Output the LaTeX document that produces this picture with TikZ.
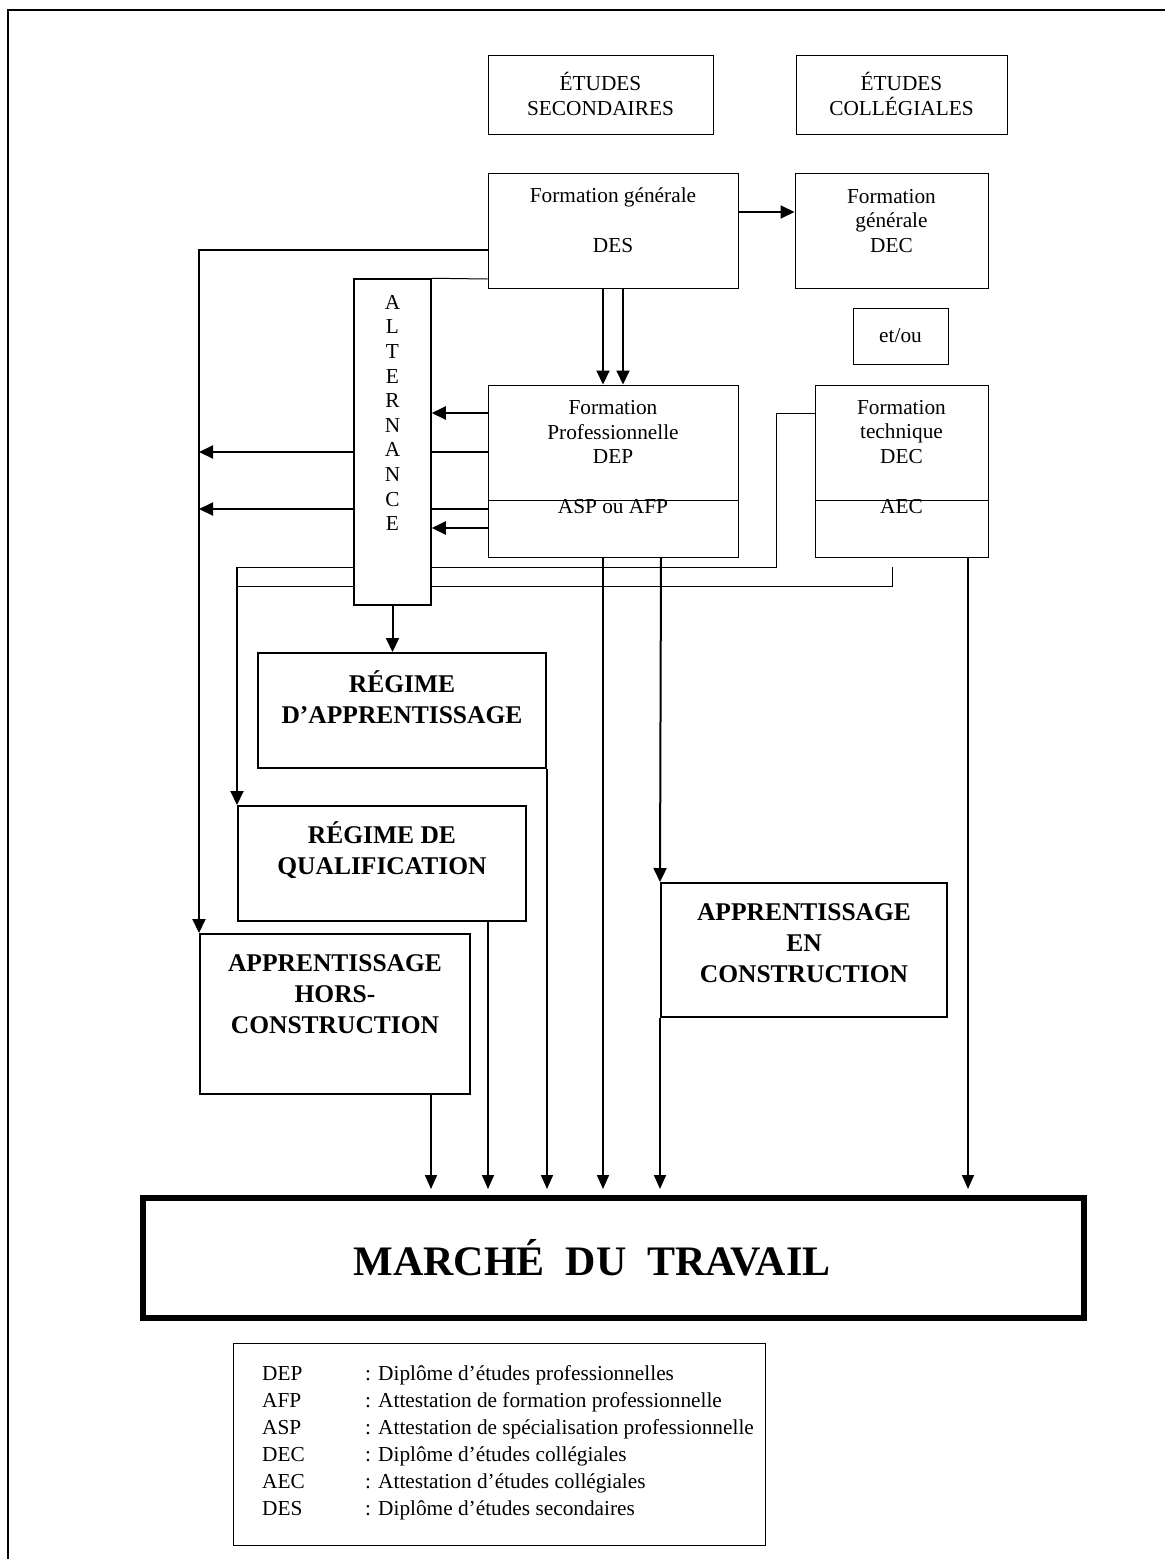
\documentclass[tikz,border=0pt]{standalone}
\usepackage{fontspec}
\setmainfont{Liberation Serif}
\usetikzlibrary{arrows.meta,fit,backgrounds}
\newcommand\ntxt{\fontsize{21.3}{24.6}\selectfont}
\newcommand\btxt{\fontsize{25.5}{31}\selectfont\bfseries}
\newcommand\mtxt{\fontsize{42}{48}\selectfont\bfseries}
\newcommand\ltxt{\fontsize{21.3}{27}\selectfont}
\begin{document}
\begin{tikzpicture}[x=1pt,y=-1pt,
  thinbox/.style={draw, line width=1pt, fill=white, inner sep=0pt},
  altbox/.style={draw, line width=1.5pt, fill=white, inner sep=0pt},
  boldbox/.style={draw, line width=2pt, fill=white, inner sep=0pt},
  txt/.style={font=\ntxt, align=center, inner sep=0pt},
  btx/.style={font=\btxt, align=center, inner sep=0pt},
  arr/.style={line width=2pt, -{Triangle[length=14pt,width=13pt]}},
  arrm/.style={line width=1.7pt, -{Triangle[length=14pt,width=12pt]}, shorten >=6pt},
  con/.style={line width=2pt},
  thincon/.style={line width=1pt},
]
\useasboundingbox (0,0) rectangle (1165,1559);
% frame
\coordinate (fbl) at (8,1559);
\coordinate (ftl) at (8,10);
\coordinate (ftr) at (1165,10);
\draw[line width=1.5pt] (fbl) -- (ftl) -- (ftr);

% boxes
\node[thinbox, fit={(488,55) (713,134)}] (es) {};
\node[thinbox, fit={(796,55) (1007,134)}] (ec) {};
\node[thinbox, fit={(488,173) (738,288)}] (fgdes) {};
\node[thinbox, fit={(795,173) (988,288)}] (fgdec) {};
\node[thinbox, fit={(853,308) (948,364)}] (etou) {};
\node[thinbox, fit={(488,385) (738,557)}] (prof) {};
\node[thinbox, fit={(815,385) (988,557)}] (tech) {};
\node[altbox, fit={(354,279) (431,605)}] (alt) {};
\node[boldbox, fit={(258,653) (546,768)}] (rega) {};
\node[boldbox, fit={(238,806) (526,921)}] (regq) {};
\node[boldbox, fit={(661,883) (947,1017)}] (enc) {};
\node[boldbox, fit={(200,934) (470,1094)}] (hors) {};
\node[draw, line width=6pt, inner sep=0pt, fit={(143,1198) (1084,1318)}] (mt) {};
\node[thinbox, fit={(233,1343) (765,1545)}] (leg) {};

% dividers
\draw[line width=1pt] (prof.west |- 0,500) -- (prof.east |- 0,500);
\draw[line width=1pt] (tech.west |- 0,500) -- (tech.east |- 0,500);

% texts
\node[txt] (es-t) at (600.5,94) {ÉTUDES\\SECONDAIRES};
\node[txt] (ec-t) at (901.5,94) {ÉTUDES\\COLLÉGIALES};
\node[txt] (fgdes-t1) at (613,197) {Formation générale};
\node[txt] (fgdes-t2) at (613,246) {DES};
\node[txt] (fgdec-t) at (891.5,221) {Formation\\générale\\DEC};
\node[txt] (etou-t) at (900.5,336) {et/ou};
\node[txt] (prof-t1) at (613,432) {Formation\\Professionnelle\\DEP};
\node[txt] (prof-t2) at (613,507) {ASP ou AFP};
\node[txt] (tech-t1) at (901.5,432) {Formation\\technique\\DEC};
\node[txt] (tech-t2) at (901.5,507) {AEC};
\node[txt] (alt-t) at (392.5,413) {A\\L\\T\\E\\R\\N\\A\\N\\C\\E};
\node[btx] (rega-t) at (402,697) {RÉGIME\\D’APPRENTISSAGE};
\node[btx] (regq-t) at (382,850) {RÉGIME DE\\QUALIFICATION};
\node[btx] (enc-t) at (804,943) {APPRENTISSAGE\\EN\\CONSTRUCTION};
\node[btx] (hors-t) at (335,994) {APPRENTISSAGE\\HORS-\\CONSTRUCTION};
\node[font=\mtxt, inner sep=0pt] (mt-t) at (592,1258) {MARCHÉ\ \ DU\ \ TRAVAIL};
\node[font=\ltxt, inner sep=0pt, anchor=north west] (leg-t) at (262,1361) {%
\begin{tabular}{@{}p{103pt}@{}l@{}}
DEP & : Diplôme d’études professionnelles\\
AFP & : Attestation de formation professionnelle\\
ASP & : Attestation de spécialisation professionnelle\\
DEC & : Diplôme d’études collégiales\\
AEC & : Attestation d’études collégiales\\
DES & : Diplôme d’études secondaires
\end{tabular}};

% connectors
\begin{pgfonlayer}{background}
\draw[arr] (fgdes.east |- 0,212) -- (fgdec.west |- 0,212);
\draw[arr] (fgdes.west |- 0,250) -- (hors.north west |- 0,250) -- (hors.north west);
\draw[thincon] (fgdes.west |- 0,279) -- (alt.north east);
\draw[arr] (fgdes.south -| 603,0) -- (prof.north -| 603,0);
\draw[arr] (fgdes.south -| 623,0) -- (prof.north -| 623,0);
\draw[arr] (prof.west |- 0,413) -- (alt.east |- 0,413);
\draw[con] (prof.west |- 0,452) -- (alt.east |- 0,452);
\draw[arr] (alt.west |- 0,452) -- (hors.north west |- 0,452);
\draw[con] (prof.west |- 0,509) -- (alt.east |- 0,509);
\draw[arr] (alt.west |- 0,509) -- (hors.north west |- 0,509);
\draw[arr] (prof.west |- 0,528) -- (alt.east |- 0,528);
\draw[thincon] (tech.west |- 0,413) -- ++(-38,0) |- (regq.north west |- 0,567);
\draw[arr] (regq.north west |- 0,567) -- (regq.north west);
\coordinate (tick) at (892,567);
\draw[thincon] (tick) |- (regq.north west |- 0,586);
\draw[arr] (alt.south) -- (alt.south |- rega.north);
\draw[arrm] (prof.south -| 603,0) -- (mt.north -| 603,0);
\draw[arr] (prof.south -| 661,0) -- (enc.north west);
\draw[arrm] (enc.south west) -- (enc.south west |- mt.north);
\draw[arrm] (tech.south -| 968,0) -- (mt.north -| 968,0);
\draw[arrm] (rega.south east) -- (rega.south east |- mt.north);
\draw[arrm] (regq.south -| 488,0) -- (mt.north -| 488,0);
\draw[arrm] (hors.south -| 431,0) -- (mt.north -| 431,0);
\end{pgfonlayer}
\end{tikzpicture}
\end{document}
